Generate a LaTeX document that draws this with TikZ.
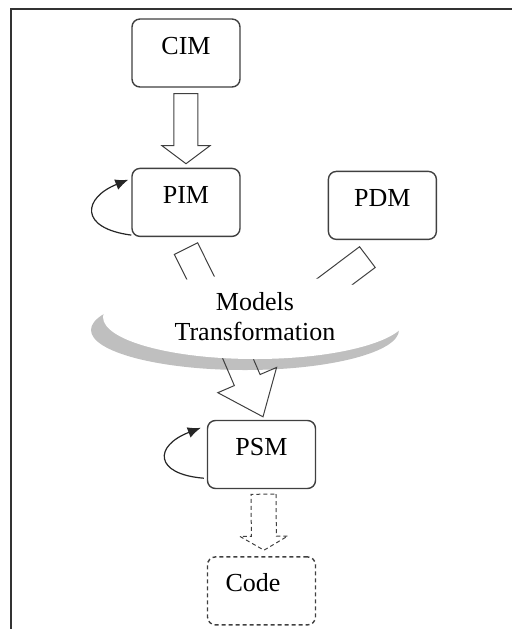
\documentclass[tikz,border=0pt]{standalone}
\usepackage{fontspec}
\setmainfont{Liberation Serif}
\usepackage{tikz}
\usetikzlibrary{positioning}
\usetikzlibrary{calc}
\usetikzlibrary{backgrounds}
\usetikzlibrary{shapes.geometric}
\usetikzlibrary{arrows.meta}

% outline arrow: [style]{from}{to}{shaft half width}{head half width}{head length}
\newcommand{\hollowarrow}[6][]{%
  \coordinate (hbase) at ($(#3)!#6!(#2)$);
  \draw[#1] ($(#2)!#4!90:(#3)$) -- ($(hbase)!#4!-90:(#2)$) -- ($(hbase)!#5!-90:(#2)$) -- (#3)
    -- ($(hbase)!#5!90:(#2)$) -- ($(hbase)!#4!90:(#2)$) -- ($(#2)!#4!-90:(#3)$) -- cycle;
}

\begin{document}
\begin{tikzpicture}[x=0.5pt, y=0.5pt,
  box/.style={draw=black!75, line width=0.7pt, rounded corners=4pt, fill=white, minimum width=54pt, inner sep=0pt, text height=17.5pt, text depth=16.5pt, font=\fontsize{13pt}{15pt}\selectfont},
  codebox/.style={box, dash pattern=on 2pt off 1.5pt},
  block/.style={draw=black!75, line width=0.5pt},
  selfloop/.style={draw=black!85, line width=0.6pt, -{Latex[length=6.5pt, width=5.5pt]}}]

\useasboundingbox (0,0) rectangle (512,-629);

% frame
\draw[black!80, line width=0.75pt] (11,-629) -- (11,-9) -- (512,-9);

% Models
\node [box] (cim) at (186,-53) {CIM};
\node [box, below=40pt of cim] (pim) {PIM};
\node [box, right=43.5pt of pim, yshift=-1.5pt] (pdm) {PDM};
\node [box] (psm) at (261.5,-454.5) {PSM};
\node [codebox, below=33.5pt of psm] (code) {Code\rule{8.5pt}{0pt}};

% Transformation
\node [ellipse, fill=white, minimum width=152pt, minimum height=42pt, inner sep=0pt, align=center, font=\fontsize{13pt}{15pt}\selectfont] (trans) at (255,-317) {Models\\Transformation};

\coordinate (cim-out) at ($(cim.south)+(0,-6)$);
\coordinate (pim-in) at ($(pim.north)+(0,4)$);
\coordinate (pim-out) at ($(pim.south)+(0,-11.5)$);
\coordinate (pdm-out) at ($(pdm.south)+(-15,-17)$);
\coordinate (trans-in1) at ($(trans.center)+(-34,-2)$);
\coordinate (trans-in2) at ($(trans.center)+(34,1)$);
\coordinate (trans-out) at ($(trans.center)+(-25,-23)$);
\coordinate (psm-in) at ($(psm.north)+(1.5,3)$);
\coordinate (psm-out) at ($(psm.south)+(2,-5)$);
\coordinate (code-in) at ($(code.north)+(2.5,6)$);

\begin{scope}[on background layer]
\fill[black!25] ($(trans.center)+(-10,-13)$) ellipse [x radius=77pt, y radius=20pt];
\hollowarrow[block]{pim-out}{trans-in1}{6.5pt}{12pt}{9pt}
\hollowarrow[block]{pdm-out}{trans-in2}{6.5pt}{12pt}{9pt}
\hollowarrow[block]{trans-out}{psm-in}{7pt}{16pt}{20pt}
\end{scope}

\hollowarrow[block]{cim-out}{pim-in}{6pt}{12pt}{9pt}
\hollowarrow[block, dash pattern=on 2pt off 1.5pt]{psm-out}{code-in}{6.25pt}{12pt}{7pt}

% self loops
\draw[selfloop] ($(pim.south west)+(0,2)$) .. controls +(-53,7) and +(-45,-18) .. ($(pim.north west)+(-3,-12)$);
\draw[selfloop] ($(psm.south west)+(-3,11)$) .. controls +(-50,4) and +(-47,-18) .. ($(psm.north west)+(-6,-8)$);

\end{tikzpicture}
\end{document}
